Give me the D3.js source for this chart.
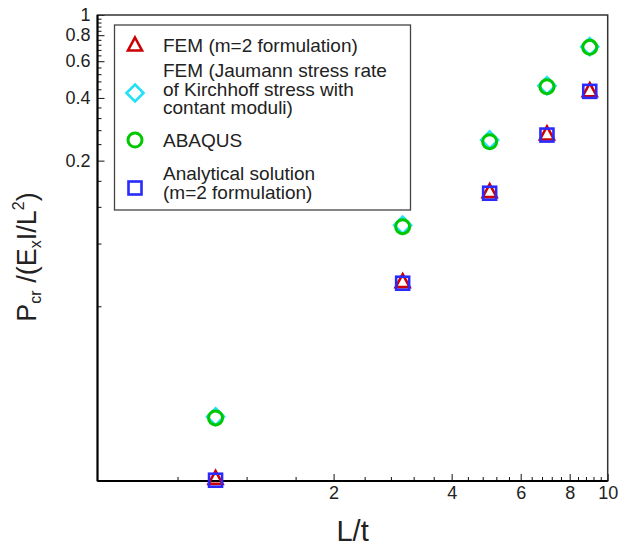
<!DOCTYPE html>
<html>
<head>
<meta charset="utf-8">
<script src="https://d3js.org/d3.v7.min.js"></script>
<style>
    body { margin: 0; background: #fff; }
    svg { display: block; }
    .axis text { font-family: "Liberation Sans", Arial, sans-serif; font-size: 18px; fill: #222; }
    .axis path, .axis line { stroke: #111; }
    .legend text { font-family: "Liberation Sans", Arial, sans-serif; font-size: 19px; fill: #222; }
</style>
</head>
<body>
<div id="chart"></div>
<script>
// L/t values and the four series
var lengthRatio = [1, 3, 5, 7, 9];
var femM2 = [0.00597, 0.0525, 0.142, 0.2685, 0.433];
var femJaumann = [0.0118, 0.098, 0.2515, 0.458, 0.705];
var abaqus = [0.01165, 0.0964, 0.2466, 0.453, 0.70];
var analytical = [0.00585, 0.0516, 0.1395, 0.2653, 0.43];

var xTickValues = [2, 4, 6, 8, 10];
var yTickValues = [0.2, 0.4, 0.6, 0.8, 1];
var yTickLabels = ['0.2', '0.4', '0.6', '0.8', '1'];

var seriesNames = [
    ['FEM (m=2 formulation)'],
    ['FEM (Jaumann stress rate', 'of Kirchhoff stress with', 'contant moduli)'],
    ['ABAQUS'],
    ['Analytical solution', '(m=2 formulation)']
];

window.addEventListener('load', function () {
    'use strict';

    var width = 626, height = 546;
    var left = 97.5, right = 607.7, top = 15, bottom = 481;

    var svg = d3.select('#chart').append('svg')
        .attr('width', width)
        .attr('height', height);

    var x = d3.scaleLog().domain([0.5, 10]).range([left, right]);
    var y = d3.scaleLog().domain([0.0058, 1]).range([bottom, top]);

    // minor ticks every 0.4 (tecplot style)
    var xMinor = d3.range(0.8, 10, 0.4).filter(function (v) {
        return Math.abs(v / 2 - Math.round(v / 2)) > 1e-6;
    });
    var yMinor = d3.range(0.04, 1, 0.04).filter(function (v) {
        return Math.abs(v / 0.2 - Math.round(v / 0.2)) > 1e-6;
    });

    svg.append('g')
        .attr('class', 'axis')
        .attr('transform', 'translate(0,' + bottom + ')')
        .call(d3.axisBottom(x).tickValues(xMinor).tickSizeInner(-4).tickSizeOuter(0).tickFormat(''))
        .select('.domain').remove();
    svg.append('g')
        .attr('class', 'axis')
        .attr('transform', 'translate(' + left + ',0)')
        .call(d3.axisLeft(y).tickValues(yMinor).tickSizeInner(-4).tickSizeOuter(0).tickFormat(''))
        .select('.domain').remove();

    var xAxis = svg.append('g')
        .attr('class', 'axis')
        .attr('transform', 'translate(0,' + bottom + ')')
        .call(d3.axisBottom(x).tickValues(xTickValues).tickSizeInner(-7).tickSizeOuter(0)
            .tickPadding(5).tickFormat(d3.format('d')));
    xAxis.select('.domain').remove();

    var yAxis = svg.append('g')
        .attr('class', 'axis')
        .attr('transform', 'translate(' + left + ',0)')
        .call(d3.axisLeft(y).tickValues(yTickValues).tickSizeInner(-7).tickSizeOuter(0)
            .tickPadding(7).tickFormat(function (d, i) { return yTickLabels[i]; }));
    yAxis.select('.domain').remove();

    // frame
    svg.append('rect')
        .attr('x', left).attr('y', top)
        .attr('width', right - left).attr('height', bottom - top)
        .attr('fill', 'none')
        .attr('stroke', '#333')
        .attr('stroke-width', 1.5);
    svg.append('line')
        .attr('x1', left).attr('x2', right).attr('y1', bottom).attr('y2', bottom)
        .attr('stroke', '#000').attr('stroke-width', 2);
    svg.append('line')
        .attr('x1', left).attr('x2', left).attr('y1', top).attr('y2', bottom)
        .attr('stroke', '#000').attr('stroke-width', 2);

    // axis titles
    svg.append('text')
        .attr('x', (left + right) / 2)
        .attr('y', 541)
        .attr('text-anchor', 'middle')
        .style('font-family', '"Liberation Sans", Arial, sans-serif')
        .style('font-size', '29px')
        .style('fill', '#222')
        .text('L/t');

    var yTitle = svg.append('text')
        .attr('transform', 'translate(36,257) rotate(-90)')
        .attr('text-anchor', 'middle')
        .style('font-family', '"Liberation Sans", Arial, sans-serif')
        .style('font-size', '27px')
        .style('fill', '#222');
    yTitle.append('tspan').text('P');
    yTitle.append('tspan').attr('dy', 5).style('font-size', '16px').text('cr');
    yTitle.append('tspan').attr('dy', -5).text(' /(E');
    yTitle.append('tspan').attr('dy', 5).style('font-size', '16px').text('x');
    yTitle.append('tspan').attr('dy', -5).text('I/L');
    yTitle.append('tspan').attr('dy', -12).style('font-size', '16px').text('2');
    yTitle.append('tspan').attr('dy', 12).text(')');

    // marker shapes
    var markers = [
        { values: femM2, color: '#cc0000', shape: 'triangle' },
        { values: femJaumann, color: '#22e0f5', shape: 'diamond' },
        { values: abaqus, color: '#00c800', shape: 'circle' },
        { values: analytical, color: '#2a2aff', shape: 'square' }
    ];

    var drawMarker = function (g, shape, color) {
        if (shape === 'triangle') {
            g.append('path').attr('d', 'M0,-7.5L7,5.5L-7,5.5Z');
        } else if (shape === 'diamond') {
            g.append('path').attr('d', 'M0,-8.5L8.5,0L0,8.5L-8.5,0Z');
        } else if (shape === 'circle') {
            g.append('circle').attr('r', 7);
        } else {
            g.append('rect').attr('x', -6.5).attr('y', -6.5).attr('width', 13).attr('height', 13);
        }
        g.selectAll('*')
            .attr('fill', 'none')
            .attr('stroke', color)
            .attr('stroke-width', shape === 'circle' ? 3 : 2.6);
    };

    markers.forEach(function (m) {
        svg.append('g').selectAll('g')
            .data(m.values)
            .enter().append('g')
            .attr('transform', function (d, i) {
                return 'translate(' + x(lengthRatio[i]) + ',' + y(d) + ')';
            })
            .each(function () { drawMarker(d3.select(this), m.shape, m.color); });
    });

    // legend
    var legend = svg.append('g').attr('class', 'legend');
    legend.append('rect')
        .attr('x', 114.5).attr('y', 25)
        .attr('width', 296).attr('height', 185)
        .attr('fill', '#fff')
        .attr('stroke', '#444')
        .attr('stroke-width', 1.3);

    var symbolY = [45, 93, 140, 188];
    var firstLineY = [52, 77, 147, 180];
    seriesNames.forEach(function (lines, i) {
        var g = legend.append('g').attr('transform', 'translate(135,' + symbolY[i] + ')');
        drawMarker(g, markers[i].shape, markers[i].color);
        var t = legend.append('text').attr('x', 163).attr('y', firstLineY[i]);
        lines.forEach(function (line, j) {
            t.append('tspan').attr('x', 163).attr('dy', j === 0 ? 0 : 18.5).text(line);
        });
    });
});
</script>
</body>
</html>
